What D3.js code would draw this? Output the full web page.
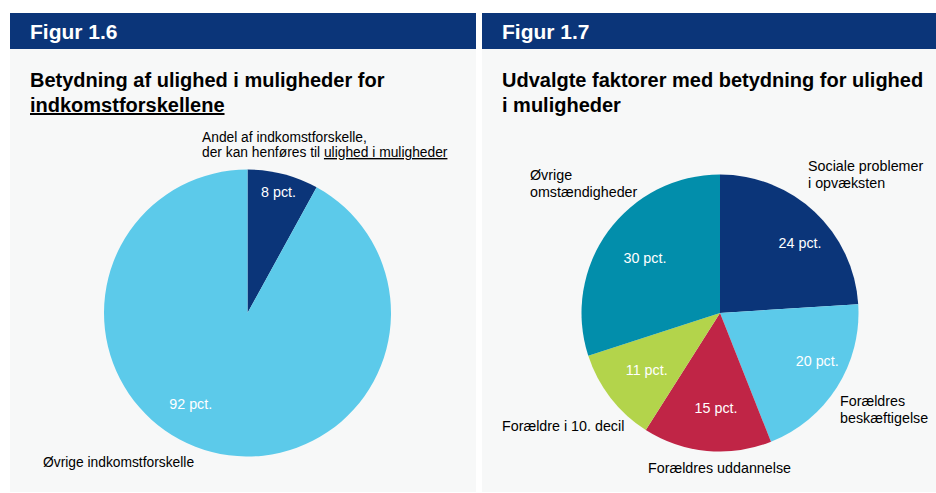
<!DOCTYPE html>
<html>
<head>
<meta charset="utf-8">
<script src="https://cdn.jsdelivr.net/npm/d3@7"></script>
<style>
  body { margin: 0; background: #fff; }
  text { font-family: "Liberation Sans", Arial, sans-serif; }
</style>
</head>
<body>
<div id="container"></div>
<script>
/* DATA */
const fig16Titles = ["Figur 1.6", "Betydning af ulighed i muligheder for", "indkomstforskellene"]
const fig16Categories = ["Ulighed i muligheder", "Øvrige indkomstforskelle"]
const fig16Values = [8, 92]

const fig17Titles = ["Figur 1.7", "Udvalgte faktorer med betydning for ulighed", "i muligheder"]
const fig17Categories = ["Sociale problemer i opvæksten", "Forældres beskæftigelse", "Forældres uddannelse", "Forældre i 10. decil", "Øvrige omstændigheder"]
const fig17Values = [24, 20, 15, 11, 30]

/* CONSTANTS */
const width = 936,
  height = 493

const navy = "#0b3579"
const colors16 = [navy, "#5ccaea"]
const colors17 = [navy, "#5ccaea", "#c02546", "#b3d44b", "#028eab"]

const svg = d3.select("#container")
  .append("svg")
  .attr("width", width)
  .attr("height", height)

// panels: header bar + grey body
function panel(x0, w, titles) {
  svg.append("rect").attr("x", x0).attr("y", 49).attr("width", w).attr("height", 443).attr("fill", "#f7f8f8")
  svg.append("rect").attr("x", x0).attr("y", 13).attr("width", w).attr("height", 36).attr("fill", navy)
  svg.append("text").attr("x", x0 + 20).attr("y", 39).attr("fill", "#fff")
    .attr("font-size", 21).attr("font-weight", "bold").text(titles[0])
  svg.append("text").attr("x", x0 + 20).attr("y", 87).attr("fill", "#000")
    .attr("font-size", 20).attr("font-weight", "bold").text(titles[1])
  return svg.append("text").attr("x", x0 + 20).attr("y", 112).attr("fill", "#000")
    .attr("font-size", 20).attr("font-weight", "bold").text(titles[2])
}

const t16 = panel(10, 466, fig16Titles)
t16.attr("text-decoration", "underline")
panel(482, 454, fig17Titles)

const pie = d3.pie().sort(null).value(d => d)

function drawPie(cx, cy, r, values, colors, labelR, nudges) {
  const g = svg.append("g").attr("transform", `translate(${cx},${cy})`)
  const arcs = pie(values)
  const arc = d3.arc().innerRadius(0).outerRadius(r)
  g.selectAll("path")
    .data(arcs)
    .join("path")
    .attr("d", arc)
    .attr("fill", (d, i) => colors[i])
  g.selectAll("text.val")
    .data(arcs)
    .join("text")
    .attr("class", "val")
    .attr("text-anchor", "middle")
    .attr("font-size", 14.3)
    .attr("fill", "#fff")
    .attr("transform", (d, i) => {
      const lr = labelR[i] * r
      const c = d3.arc().innerRadius(lr).outerRadius(lr).centroid(d)
      return `translate(${c[0] + nudges[i][0]},${c[1] + nudges[i][1] + 5})`
    })
    .text(d => d.data + " pct.")
}

drawPie(247.5, 313, 143.5, fig16Values, colors16, [0.87, 0.75], [[0, 0], [-30, -13]])
drawPie(720, 313, 138.5, fig17Values, colors17, [0.77, 0.78, 0.69, 0.67, 0.67], [[7, 8], [6, -10], [5, 0], [0, 0], [0, 0]])

// category annotations
function note(x, y, lines, size) {
  const t = svg.append("text").attr("x", x).attr("y", y).attr("font-size", size).attr("fill", "#000")
  lines.forEach((l, i) => {
    t.append("tspan").attr("x", x).attr("dy", i ? 17 : 0).text(l)
  })
  return t
}

const n16 = svg.append("text").attr("x", 202).attr("y", 142).attr("font-size", 13.8)
n16.append("tspan").attr("x", 202).text("Andel af indkomstforskelle,")
n16.append("tspan").attr("x", 202).attr("dy", 15).text("der kan henføres til ")
n16.append("tspan").attr("text-decoration", "underline").text("ulighed i muligheder")

note(43, 467, [fig16Categories[1]], 13.8)

note(808, 171, ["Sociale problemer", "i opvæksten"], 14.3)
note(840, 406, ["Forældres", "beskæftigelse"], 14.3)
note(648, 473, [fig17Categories[2]], 14.3)
note(502, 431, [fig17Categories[3]], 14.3)
note(530, 180, ["Øvrige", "omstændigheder"], 14.3)
</script>
</body>
</html>
